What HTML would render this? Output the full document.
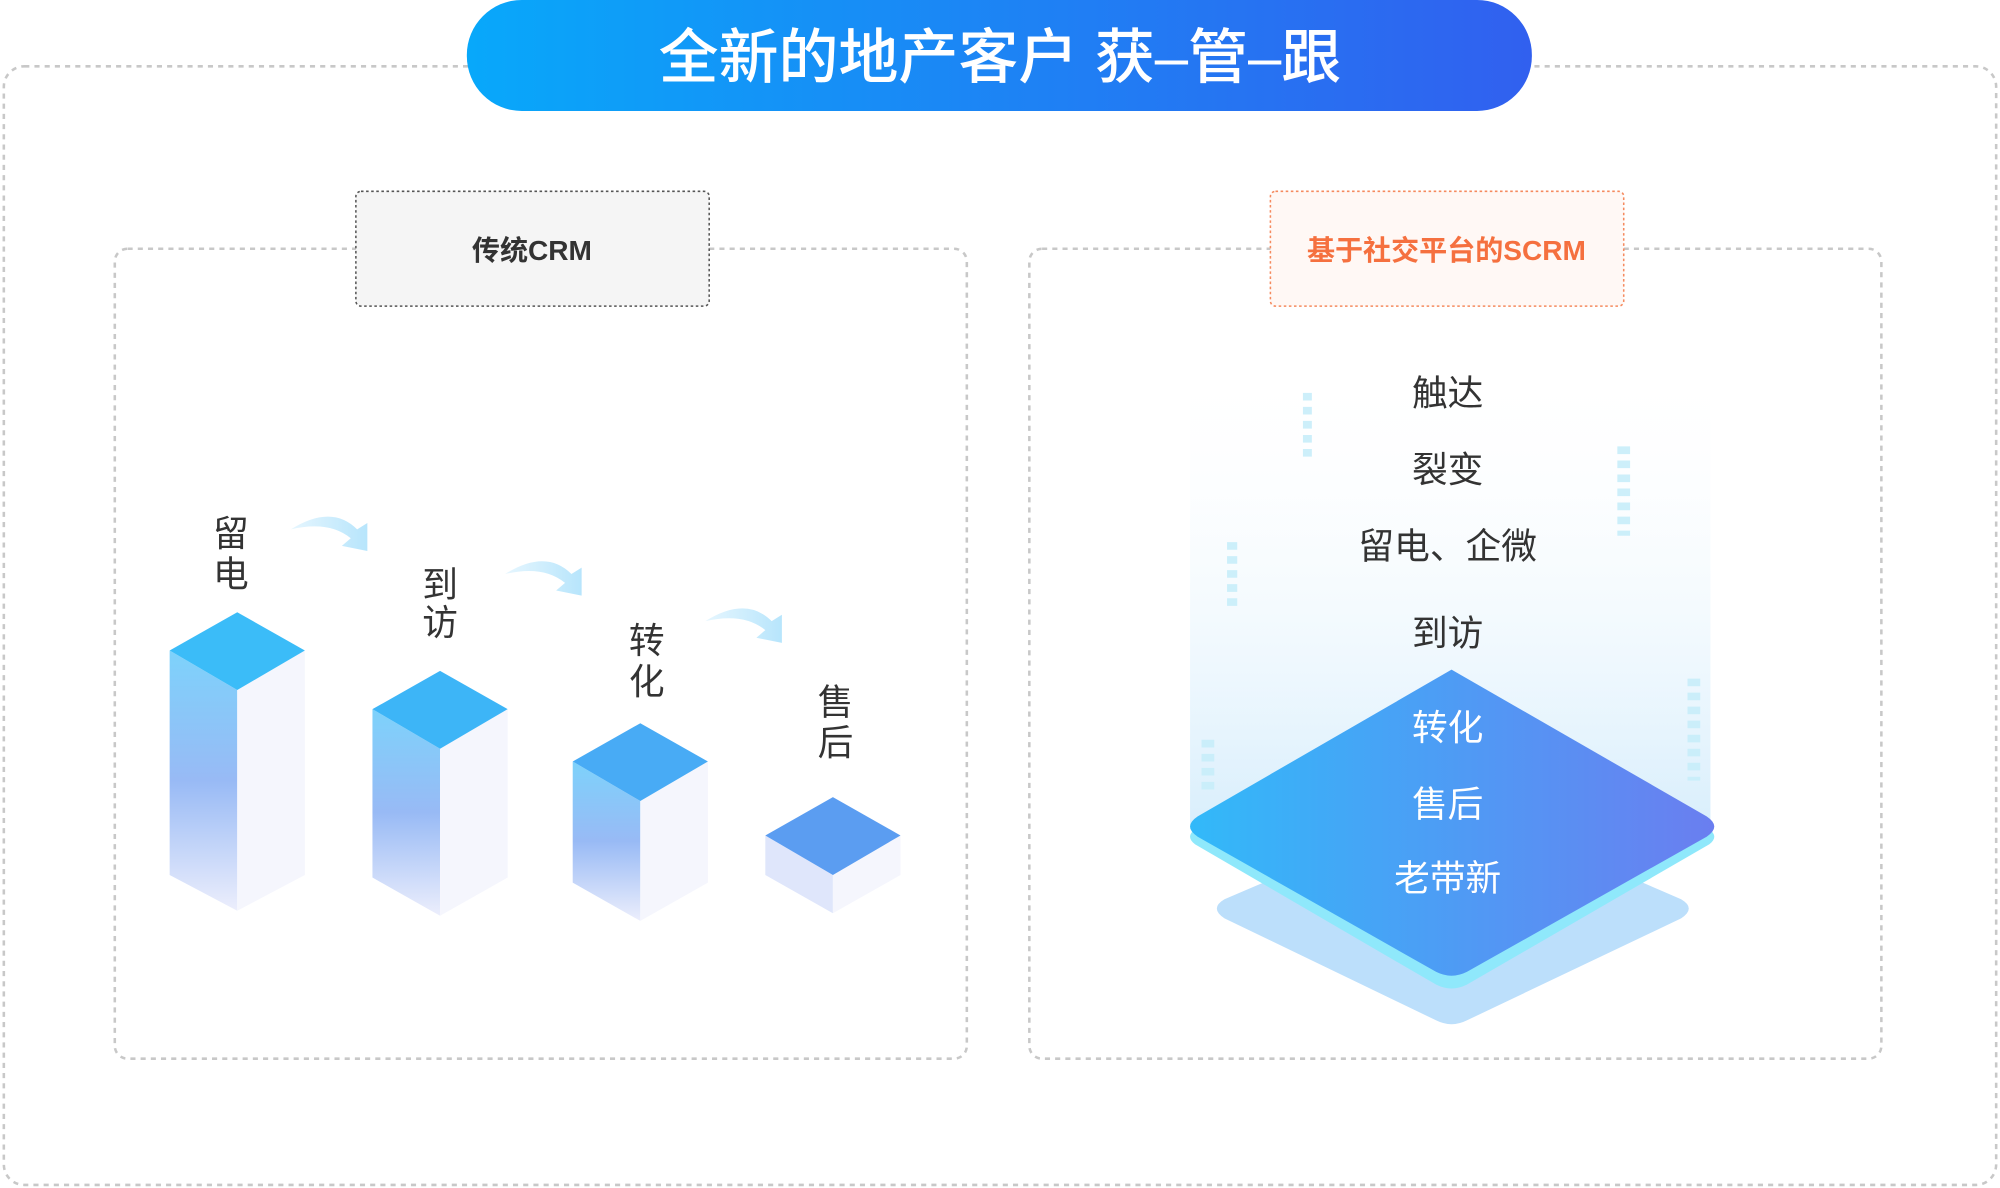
<!DOCTYPE html>
<html><head><meta charset="utf-8"><style>
html,body{margin:0;padding:0;background:#fff;}
svg{display:block;}
text{font-family:"Liberation Sans","Noto Sans CJK SC",sans-serif;}
</style></head><body>
<svg width="2000" height="1188" viewBox="0 0 1568 931.4" xmlns="http://www.w3.org/2000/svg">
<defs>
<linearGradient id="tg" x1="0" x2="1"><stop offset="0" stop-color="#08a8fa"/><stop offset="1" stop-color="#3160ef"/></linearGradient>
<linearGradient id="lf" x1="0" y1="0" x2="0" y2="1"><stop offset="0" stop-color="#7dd2fb"/><stop offset="0.5" stop-color="#98baf5"/><stop offset="1" stop-color="#eceefc"/></linearGradient>
<linearGradient id="pan" x1="0" y1="0" x2="0" y2="1"><stop offset="0" stop-color="#ffffff" stop-opacity="0"/><stop offset="1" stop-color="#d8eefc"/></linearGradient>
<linearGradient id="dg" x1="0" y1="0" x2="1" y2="0"><stop offset="0" stop-color="#32b9f9"/><stop offset="1" stop-color="#6a7ef0"/></linearGradient>
<linearGradient id="ar" x1="0" x2="1"><stop offset="0" stop-color="#e6f6fe"/><stop offset="1" stop-color="#b7e5fc"/></linearGradient>
</defs>
<rect x="3" y="52" width="1562" height="877" rx="16" fill="none" stroke="#c8c8c8" stroke-width="2" stroke-dasharray="4 4"/>
<rect x="366" y="0" width="835" height="87" rx="43" fill="url(#tg)"/>
<text x="784" y="61" font-size="47" fill="#fff" text-anchor="middle" font-weight="500">全新的地产客户 获–管–跟</text>

<rect x="90" y="195" width="668" height="635" rx="10" fill="none" stroke="#c8c8c8" stroke-width="2" stroke-dasharray="4 4"/>
<rect x="807" y="195" width="668" height="635" rx="10" fill="none" stroke="#c8c8c8" stroke-width="2" stroke-dasharray="4 4"/>
<rect x="279" y="150" width="277" height="90" rx="4" fill="#f5f5f5" stroke="#555" stroke-width="1.2" stroke-dasharray="2 2"/>
<text x="417" y="204" font-size="22" font-weight="bold" fill="#333" text-anchor="middle">传统CRM</text>
<rect x="996" y="150" width="277" height="90" rx="4" fill="#fff8f5" stroke="#f58a5e" stroke-width="1.2" stroke-dasharray="2 2"/>
<text x="1134" y="204" font-size="22" font-weight="bold" fill="#f5703f" text-anchor="middle">基于社交平台的SCRM</text>

<g>
<polygon points="133,510 186,541 186,714 133,686" fill="url(#lf)"/>
<polygon points="186,541 239,510 239,686 186,714" fill="#f5f6fd"/>
<polygon points="186,480 239,510 186,541 133,510" fill="#3bbcf8"/>
<polygon points="292,556 345,587 345,718 292,688" fill="url(#lf)"/>
<polygon points="345,587 398,556 398,688 345,718" fill="#f5f6fd"/>
<polygon points="345,526 398,556 345,587 292,556" fill="#3db5f7"/>
<polygon points="449,597 502,628 502,722 449,692" fill="url(#lf)"/>
<polygon points="502,628 555,597 555,692 502,722" fill="#f5f6fd"/>
<polygon points="502,567 555,597 502,628 449,597" fill="#48abf5"/>
<polygon points="600,655 653,686 653,716 600,686" fill="#dfe6fb"/>
<polygon points="653,686 706,655 706,686 653,716" fill="#f5f6fd"/>
<polygon points="653,625 706,655 653,686 600,655" fill="#5b9df1"/>
</g>
<g font-size="28" fill="#333" text-anchor="middle">
<text x="181" y="428">留</text><text x="181" y="460">电</text>
<text x="345" y="468">到</text><text x="345" y="498">访</text>
<text x="507" y="512">转</text><text x="507" y="544">化</text>
<text x="655" y="560">售</text><text x="655" y="592">后</text>
</g>
<g fill="url(#ar)">
<path d="M228,415 Q260,395 280,415 L288,410 L288,432 L268,428 L275,422 Q258,408 228,415Z"/>
<path d="M396,450 Q428,430 448,450 L456,445 L456,467 L436,463 L443,457 Q426,443 396,450Z"/>
<path d="M553,487 Q585,467 605,487 L613,482 L613,504 L593,500 L600,494 Q583,480 553,487Z"/>
</g>

<rect x="933" y="280" width="408" height="370" fill="url(#pan)"/>
<g stroke="#c8eefa" stroke-dasharray="6 5" opacity="0.9">
<line x1="1025" y1="308" x2="1025" y2="358" stroke-width="7"/>
<line x1="1273" y1="350" x2="1273" y2="420" stroke-width="10"/>
<line x1="966" y1="425" x2="966" y2="475" stroke-width="8"/>
<line x1="1328" y1="532" x2="1328" y2="612" stroke-width="10"/>
<line x1="947" y1="580" x2="947" y2="620" stroke-width="10"/>
</g>
<path d="M1140,628 L1318,705 Q1330,712 1318,720 L1150,800 Q1138,806 1126,800 L960,720 Q948,712 960,705 Z" fill="#bcdffb"/>
<path d="M1138,533 L1340,650 Q1348,656 1340,662 L1150,772 Q1138,778 1126,772 L937,662 Q929,656 937,650 Z" fill="#8fe8fb"/>
<path d="M1138,525 L1338,640 Q1350,648 1338,656 L1150,762 Q1138,768 1126,762 L939,656 Q927,648 939,640 Z" fill="url(#dg)"/>
<g font-size="28" fill="#333" text-anchor="middle">
<text x="1135" y="318">触达</text><text x="1135" y="378">裂变</text>
<text x="1135" y="438">留电、企微</text><text x="1135" y="506">到访</text>
</g>
<g font-size="28" fill="#fff" text-anchor="middle">
<text x="1135" y="580">转化</text><text x="1135" y="640">售后</text><text x="1135" y="698">老带新</text>
</g>
</svg>
</body></html>
